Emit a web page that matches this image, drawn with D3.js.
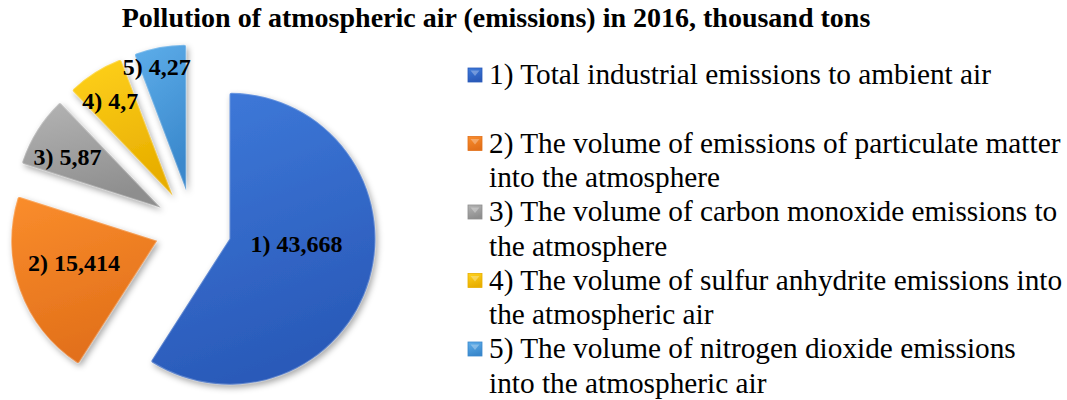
<!DOCTYPE html>
<html>
<head>
<meta charset="utf-8">
<script src="https://cdn.jsdelivr.net/npm/d3@7"></script>
<style>
body { margin: 0; background: #fff; }
text { font-family: "Liberation Serif", "Times New Roman", serif; }
</style>
</head>
<body>
<div id="chart"></div>
<script>
var title = "Pollution of atmospheric air (emissions) in 2016, thousand tons";

var values = [43.668, 15.414, 5.87, 4.7, 4.27];
var valueLabels = ["1) 43,668", "2) 15,414", "3) 5,87", "4) 4,7", "5) 4,27"];

var legendLines = [
	["1) Total industrial emissions to ambient air"],
	["2) The volume of emissions of particulate matter", "into the atmosphere"],
	["3) The volume of carbon monoxide emissions to", "the atmosphere"],
	["4) The volume of sulfur anhydrite emissions into", "the atmospheric air"],
	["5) The volume of nitrogen dioxide emissions", "into the atmospheric air"]
];

// light / dark stop for each slice
var colorsLight = ["#3f7bdb", "#fa8d2c", "#b4b4b4", "#ffd21c", "#5eaeea"];
var colorsDark  = ["#2a5ab9", "#e2701a", "#8e8e8e", "#e8ae00", "#3a88cc"];

var width = 1067,
	height = 400,
	cx = 193,
	cy = 228,
	radius = 146,
	explode = 38;

// label placement inside each slice: fraction of radius, angle shift (deg)
var labelFrac  = [0.46, 0.59, 0.73, 0.78, 0.87];
var labelShift = [-12, 5, -3, -1, -3];

var svg = d3.select("#chart")
	.append("svg")
	.attr("width", width)
	.attr("height", height);

var defs = svg.append("defs");

colorsLight.forEach(function(c, i) {
	var g = defs.append("linearGradient")
		.attr("id", "grad" + i)
		.attr("x1", 0).attr("y1", 0)
		.attr("x2", 0.3).attr("y2", 1);
	g.append("stop").attr("offset", "0%").attr("stop-color", c);
	g.append("stop").attr("offset", "100%").attr("stop-color", colorsDark[i]);
});

var shadow = defs.append("filter")
	.attr("id", "shadow")
	.attr("x", "-20%").attr("y", "-20%")
	.attr("width", "140%").attr("height", "140%");
shadow.append("feDropShadow")
	.attr("dx", 2).attr("dy", 3)
	.attr("stdDeviation", 3)
	.attr("flood-color", "#000")
	.attr("flood-opacity", 0.35);

svg.append("text")
	.attr("x", 496)
	.attr("y", 27)
	.attr("text-anchor", "middle")
	.attr("font-weight", "bold")
	.attr("font-size", 28)
	.text(title);

var pie = d3.pie()
	.sort(null)
	.value(function(d) { return d; });

var arcs = pie(values);

var arc = d3.arc()
	.innerRadius(0)
	.outerRadius(radius)
	.cornerRadius(2);

var pieGroup = svg.append("g")
	.attr("transform", "translate(" + cx + "," + cy + ")");

var slices = pieGroup.selectAll("g.slice")
	.data(arcs)
	.enter()
	.append("g")
	.attr("class", "slice")
	.attr("transform", function(d) {
		var mid = (d.startAngle + d.endAngle) / 2;
		return "translate(" + (Math.sin(mid) * explode) + "," + (-Math.cos(mid) * explode) + ")";
	});

slices.append("path")
	.attr("d", arc)
	.attr("fill", function(d, i) { return "url(#grad" + i + ")"; })
	.attr("filter", "url(#shadow)");

// soft bevel highlight along the edges
slices.append("path")
	.attr("d", arc)
	.attr("fill", "none")
	.attr("stroke", "#fff")
	.attr("stroke-opacity", 0.25)
	.attr("stroke-width", 2);

slices.append("text")
	.attr("transform", function(d, i) {
		var mid = (d.startAngle + d.endAngle) / 2 + labelShift[i] * Math.PI / 180;
		var r = radius * labelFrac[i];
		return "translate(" + (Math.sin(mid) * r) + "," + (-Math.cos(mid) * r) + ")";
	})
	.attr("text-anchor", "middle")
	.attr("dy", "0.35em")
	.attr("font-weight", "bold")
	.attr("font-size", 24)
	.attr("fill", "#000")
	.text(function(d, i) { return valueLabels[i]; });

// legend
var legend = svg.append("g")
	.attr("transform", "translate(468,84)");

var items = legend.selectAll("g.item")
	.data(legendLines)
	.enter()
	.append("g")
	.attr("class", "item")
	.attr("transform", function(d, i) { return "translate(0," + (i * 68.5) + ")"; });

items.append("rect")
	.attr("x", 0)
	.attr("y", -16)
	.attr("width", 14)
	.attr("height", 14)
	.attr("fill", function(d, i) { return "url(#grad" + i + ")"; })
	.attr("stroke", function(d, i) { return colorsDark[i]; })
	.attr("stroke-width", 0.8);

items.append("path")
	.attr("d", "M2.5,-13.5 L11.5,-13.5 L7,-8 Z")
	.attr("fill", "#fff")
	.attr("fill-opacity", 0.3);

items.each(function(lines) {
	var t = d3.select(this).append("text")
		.attr("x", 21)
		.attr("y", 0)
		.attr("font-size", 29.3)
		.attr("fill", "#000");
	lines.forEach(function(line, j) {
		t.append("tspan")
			.attr("x", 21)
			.attr("dy", j === 0 ? 0 : 34.5)
			.text(line);
	});
});
</script>
</body>
</html>
